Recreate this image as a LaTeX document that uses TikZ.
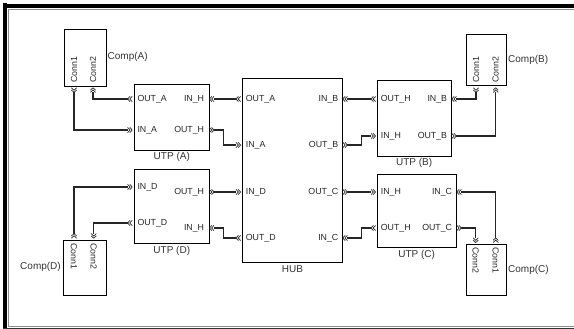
\documentclass[tikz,border=0pt]{standalone}
\usepackage{fontspec}
\setmainfont{Liberation Sans}
\begin{document}
\begin{tikzpicture}[x=1pt,y=-1pt,
  blk/.style={draw=black,line width=0.9pt,inner sep=0pt,fill=white},
  plab/.style={inner sep=0pt,font=\fontsize{8.8}{10}\selectfont,text=black!85},
  blab/.style={inner sep=0pt,font=\fontsize{10}{11}\selectfont,text=black!80},
  conlab/.style={inner sep=0pt,font=\fontsize{8.8}{10}\selectfont,text=black!85},
  wire/.style={draw=black!85,line width=1.1pt},
  chv/.pic={\draw[line width=0.7pt,black!85] (0,-2.6)--(2.4,0)--(0,2.6) (2.2,-2.6)--(4.6,0)--(2.2,2.6);}]
\useasboundingbox (0,0) rectangle (574,329);
% frame
\draw[line width=4pt,black] (5,3) -- (5,329);
\draw[line width=3.5pt,black] (3,6) -- (574,6);
\draw[line width=1.2pt,black!45] (8.8,326.5) -- (8.8,9.6) -- (574,9.6);
\draw[line width=0.8pt,black!45] (8.8,326.3) -- (574,326.3);
\draw[line width=1.4pt,black!80] (3,328.4) -- (574,328.4);

% blocks
\node[blk,minimum width=42pt,minimum height=57pt] (compA) at (85,57.5) {};
\node[blk,minimum width=39.3pt,minimum height=51.3pt] (compB) at (486.3,60.3) {};
\node[blk,minimum width=39.3pt,minimum height=51.4pt] (compC) at (486.3,270) {};
\node[blk,minimum width=43pt,minimum height=55.7pt] (compD) at (85,267.8) {};
\node[blk,minimum width=75pt,minimum height=65.7pt] (utpA) at (171.8,117.2) {};
\node[blk,minimum width=74pt,minimum height=76pt] (utpB) at (414.7,118.7) {};
\node[blk,minimum width=79pt,minimum height=72.7pt] (utpC) at (417.2,211.3) {};
\node[blk,minimum width=75pt,minimum height=74.3pt] (utpD) at (171.8,206.2) {};
\node[blk,minimum width=100pt,minimum height=184.4pt] (hub) at (292.7,170.5) {};

% block labels
\node[blab] (lA) at (171.8,157) {UTP (A)};
\node[blab] (lB) at (414.2,163) {UTP (B)};
\node[blab] (lC) at (416.7,255) {UTP (C)};
\node[blab] (lD) at (171.8,250.7) {UTP (D)};
\node[blab] (lH) at (292.5,269) {HUB};
\node[blab,anchor=west] (lcA) at (107.5,57) {Comp(A)};
\node[blab,anchor=west] (lcB) at (508,60) {Comp(B)};
\node[blab,anchor=west] (lcC) at (508,269.5) {Comp(C)};
\node[blab,anchor=east] (lcD) at (61,267) {Comp(D)};

% component connector labels
\node[conlab,rotate=90,anchor=west] (tA1) at (74,83) {Conn1};
\node[conlab,rotate=90,anchor=west] (tA2) at (93,83) {Conn2};
\node[conlab,rotate=90,anchor=west] (tB1) at (476,83) {Conn1};
\node[conlab,rotate=90,anchor=west] (tB2) at (495.7,83) {Conn2};
\node[conlab,rotate=-90,anchor=west] (tC2) at (475.7,247.3) {Conn2};
\node[conlab,rotate=-90,anchor=west] (tC1) at (495.7,247.3) {Conn1};
\node[conlab,rotate=-90,anchor=west] (tD1) at (74,243) {Conn1};
\node[conlab,rotate=-90,anchor=west] (tD2) at (93.7,243) {Conn2};

% port labels UTP(A)
\node[plab,anchor=west] (pa1) at (137.3,99) {OUT\_A};
\node[plab,anchor=west] (pa2) at (137.3,130) {IN\_A};
\node[plab,anchor=east] (pa3) at (204.3,99) {IN\_H};
\node[plab,anchor=east] (pa4) at (204.3,130) {OUT\_H};
% HUB
\node[plab,anchor=west] (ph1) at (245.7,99) {OUT\_A};
\node[plab,anchor=west] (ph2) at (245.7,145) {IN\_A};
\node[plab,anchor=west] (ph3) at (245.7,192) {IN\_D};
\node[plab,anchor=west] (ph4) at (245.7,238) {OUT\_D};
\node[plab,anchor=east] (ph5) at (338.5,99) {IN\_B};
\node[plab,anchor=east] (ph6) at (338.5,145) {OUT\_B};
\node[plab,anchor=east] (ph7) at (338.5,192) {OUT\_C};
\node[plab,anchor=east] (ph8) at (338.5,238) {IN\_C};
% UTP(B)
\node[plab,anchor=west] (pb1) at (380.7,99) {OUT\_H};
\node[plab,anchor=west] (pb2) at (380.7,136) {IN\_H};
\node[plab,anchor=east] (pb3) at (447.3,99) {IN\_B};
\node[plab,anchor=east] (pb4) at (447.3,136) {OUT\_B};
% UTP(C)
\node[plab,anchor=west] (pc1) at (380.7,192) {IN\_H};
\node[plab,anchor=west] (pc2) at (380.7,228) {OUT\_H};
\node[plab,anchor=east] (pc3) at (452.3,192) {IN\_C};
\node[plab,anchor=east] (pc4) at (452.3,228) {OUT\_C};
% UTP(D)
\node[plab,anchor=west] (pd1) at (137.3,187) {IN\_D};
\node[plab,anchor=west] (pd2) at (137.3,223) {OUT\_D};
\node[plab,anchor=east] (pd3) at (204.3,192) {OUT\_H};
\node[plab,anchor=east] (pd4) at (204.3,228) {IN\_H};

% port glyphs
% UTP(A)
\pic[rotate=180] at (132.2,99) {chv};
\pic at (127.6,130) {chv};
\pic[rotate=180] at (214,99) {chv};
\pic at (209.4,130) {chv};
% HUB
\pic[rotate=180] at (240.6,99) {chv};
\pic at (236,145) {chv};
\pic at (236,192) {chv};
\pic[rotate=180] at (240.6,238) {chv};
\pic[rotate=180] at (347.4,99) {chv};
\pic at (342.8,145) {chv};
\pic at (342.8,192) {chv};
\pic[rotate=180] at (347.4,238) {chv};
% UTP(B)
\pic[rotate=180] at (375.6,99) {chv};
\pic at (371,136) {chv};
\pic[rotate=180] at (456.4,99) {chv};
\pic at (451.8,136) {chv};
% UTP(C)
\pic at (371,192) {chv};
\pic[rotate=180] at (375.6,228) {chv};
\pic[rotate=180] at (461.4,192) {chv};
\pic at (456.8,228) {chv};
% UTP(D)
\pic at (127.6,187) {chv};
\pic[rotate=180] at (132.2,223) {chv};
\pic at (209.4,192) {chv};
\pic[rotate=180] at (214,228) {chv};
% components
\pic[rotate=-90] at (74,87.8) {chv};
\pic[rotate=90] at (93,92.4) {chv};
\pic[rotate=-90] at (476,87.8) {chv};
\pic[rotate=90] at (495.7,92.4) {chv};
\pic[rotate=90] at (495.7,242.5) {chv};
\pic[rotate=-90] at (475.7,237.9) {chv};
\pic[rotate=90] at (74,238.2) {chv};
\pic[rotate=-90] at (93.7,233.6) {chv};

% connector end points
\coordinate (cA1) at (74,92.4);
\coordinate (cA2) at (93,92.4);
\coordinate (cB1) at (476,92.4);
\coordinate (cB2) at (495.7,92.4);
\coordinate (cC1) at (495.7,237.9);
\coordinate (cC2) at (475.7,237.9);
\coordinate (cD1) at (74,233.6);
\coordinate (cD2) at (93.7,233.6);
\coordinate (aOA) at (127.6,99);
\coordinate (aIA) at (127.6,130);
\coordinate (aIH) at (214,99);
\coordinate (aOH) at (214,130);
\coordinate (hOA) at (236,99);
\coordinate (hIA) at (236,145);
\coordinate (hID) at (236,192);
\coordinate (hOD) at (236,238);
\coordinate (hIB) at (347.4,99);
\coordinate (hOB) at (347.4,145);
\coordinate (hOC) at (347.4,192);
\coordinate (hIC) at (347.4,238);
\coordinate (bOH) at (371,99);
\coordinate (bIH) at (371,136);
\coordinate (bIB) at (456.4,99);
\coordinate (bOB) at (456.4,136);
\coordinate (cIH) at (371,192);
\coordinate (cOH) at (371,228);
\coordinate (cIC) at (461.4,192);
\coordinate (cOC) at (461.4,228);
\coordinate (dID) at (127.6,187);
\coordinate (dOD) at (127.6,223);
\coordinate (dOH) at (214,192);
\coordinate (dIH) at (214,228);

% wires
\draw[wire] (cA2) |- (aOA);
\draw[wire] (cA1) |- (aIA);
\draw[wire] (aIH) -- (hOA);
\draw[wire] (aOH) -- (223.5,130) |- (hIA);
\draw[wire] (hIB) -- (bOH);
\draw[wire] (hOB) -- (361.7,145) |- (bIH);
\draw[wire] (bIB) -| (cB1);
\draw[wire] (bOB) -| (cB2);
\draw[wire] (cD1) |- (dID);
\draw[wire] (dOD) -| (cD2);
\draw[wire] (dOH) -- (hID);
\draw[wire] (dIH) -- (223.5,228) |- (hOD);
\draw[wire] (hOC) -- (cIH);
\draw[wire] (hIC) -- (361.7,238) |- (cOH);
\draw[wire] (cIC) -| (cC1);
\draw[wire] (cOC) -| (cC2);
\end{tikzpicture}
\end{document}
